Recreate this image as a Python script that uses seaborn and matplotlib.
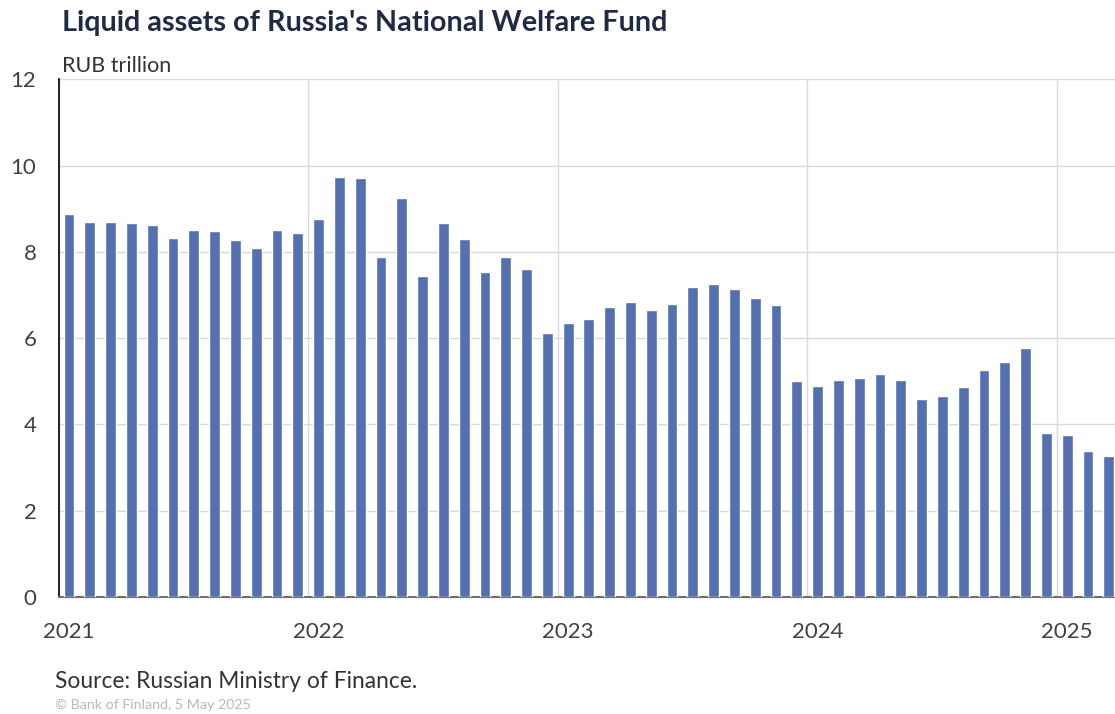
import pandas as pd
import matplotlib.pyplot as plt
import seaborn as sns

# Liquid assets of the National Welfare Fund, RUB trillion, monthly from Jan 2021
values_2021 = [8.88, 8.69, 8.69, 8.67, 8.62, 8.31, 8.50, 8.49, 8.28, 8.10, 8.50, 8.43]
values_2022 = [8.77, 9.74, 9.71, 7.88, 9.24, 7.43, 8.67, 8.29, 7.53, 7.88, 7.60, 6.13]
values_2023 = [6.34, 6.44, 6.72, 6.83, 6.65, 6.80, 7.19, 7.25, 7.13, 6.94, 6.76, 5.01]
values_2024 = [4.90, 5.04, 5.08, 5.17, 5.04, 4.59, 4.66, 4.86, 5.25, 5.44, 5.78, 3.80]
values_2025 = [3.75, 3.38, 3.27]

years = ["2021", "2022", "2023", "2024", "2025"]
values = values_2021 + values_2022 + values_2023 + values_2024 + values_2025
months = pd.date_range("2021-01-01", periods=len(values), freq="MS").strftime("%Y-%m")

df = pd.DataFrame({"month": months, "value": values})

sns.set_style("white")
plt.rcParams["font.family"] = ["Lato", "DejaVu Sans"]

fig = plt.figure(figsize=(11.15, 7.14), dpi=100)
ax = fig.add_axes([0.0526, 0.1639, 0.9474, 0.7251])

sns.barplot(data=df, x="month", y="value", color="#5470B0", width=0.52,
            saturation=1, ax=ax, zorder=3)

ax.set_ylim(0, 12)
ax.set_yticks(range(0, 13, 2))
ax.set_xlim(-0.5, 50.3)

# year labels under January bars, gridlines at year boundaries
ax.set_xticks([0, 12, 24, 36, 48])
ax.set_xticklabels(years)
ax.set_xticks([-0.5, 11.5, 23.5, 35.5, 47.5], minor=True)
ax.grid(axis="y", color="#d9d9d9", linewidth=1, zorder=0)
ax.grid(axis="x", which="minor", color="#d9d9d9", linewidth=1, zorder=0)
ax.tick_params(axis="both", which="both", length=0, labelsize=16,
               colors="#404040")
ax.tick_params(axis="y", pad=16)
ax.tick_params(axis="x", pad=18)

ax.set_xlabel("")
ax.set_ylabel("")
for side in ["top", "right"]:
    ax.spines[side].set_visible(False)
ax.spines["left"].set_color("#000000")
ax.spines["left"].set_linewidth(1.2)
ax.spines["bottom"].set_color("#6f6f6f")
ax.spines["bottom"].set_linewidth(1.5)

fig.text(0.0556, 0.968, "Liquid assets of Russia's National Welfare Fund",
         fontsize=20.7, fontweight="bold", color="#1f2a44", va="center")
fig.text(0.0556, 0.907, "RUB trillion", fontsize=15.5, color="#333333", va="center")
fig.text(0.0493, 0.046, "Source: Russian Ministry of Finance.", fontsize=16.4,
         color="#333333", va="center")
fig.text(0.0493, 0.013, "\u00a9 Bank of Finland, 5 May 2025", fontsize=10.3,
         color="#b8b8b8", va="center")

fig.savefig("out.png", dpi=100)
